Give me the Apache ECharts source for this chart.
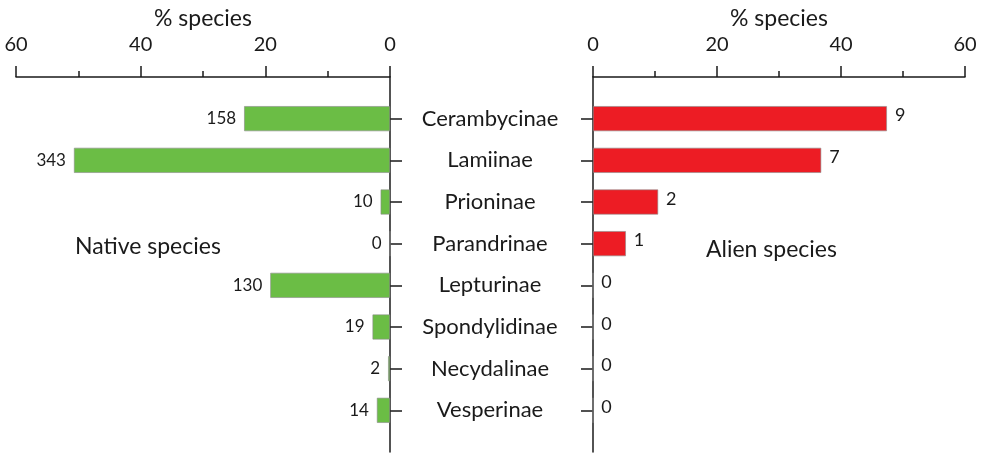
<!DOCTYPE html>
<html>
<head>
<meta charset="utf-8">
<script src="https://cdn.jsdelivr.net/npm/echarts@6/dist/echarts.min.js"></script>
<style>
  html, body { margin: 0; padding: 0; background: #fff; }
  #chart { width: 984px; height: 453px; }
</style>
</head>
<body>
<div id="chart"></div>
<script>
// subfamilies, top to bottom
const subfamilies = ['Cerambycinae', 'Lamiinae', 'Prioninae', 'Parandrinae', 'Lepturinae', 'Spondylidinae', 'Necydalinae', 'Vesperinae'];
// % of species
const nativePct = [23.4, 50.7, 1.5, 0, 19.2, 2.8, 0.3, 2.1];
const alienPct = [47.4, 36.8, 10.5, 5.3, 0, 0, 0, 0];
// species counts shown next to the bars
const nativeCount = [158, 343, 10, 0, 130, 19, 2, 14];
const alienCount = [9, 7, 2, 1, 0, 0, 0, 0];
const pctTicks = [0, 20, 40, 60];

const chart = echarts.init(document.getElementById('chart'));
const font = 'Lato, "Open Sans", sans-serif';
const ink = '#1a1a1a';

// blank slot above and below so the bars sit on the tick lines
const cats = [''].concat(subfamilies, ['']);
const pad = arr => [null].concat(arr, [null]);

const xCommon = {
  type: 'value',
  position: 'top',
  min: pctTicks[0],
  max: pctTicks[pctTicks.length - 1],
  interval: 20,
  name: '% species',
  nameLocation: 'middle',
  nameGap: 47,
  nameTextStyle: { fontFamily: font, fontSize: 23, color: ink },
  axisLine: { show: true, lineStyle: { color: ink, width: 1.5 } },
  axisTick: { show: true, length: 11, lineStyle: { color: ink, width: 1.5 } },
  minorTick: { show: true, splitNumber: 2, length: 6, lineStyle: { color: ink, width: 1.5 } },
  axisLabel: { fontFamily: font, fontSize: 20, color: ink, margin: 22 },
  splitLine: { show: false }
};

const yCommon = {
  type: 'category',
  data: cats,
  inverse: true,
  boundaryGap: false,
  axisLine: { show: true, onZero: false, lineStyle: { color: ink, width: 1.5 } },
  axisTick: {
    show: true, length: 12,
    interval: (i, v) => v !== '',
    lineStyle: { color: ink, width: 1.5 }
  }
};

chart.setOption({
  animation: false,
  grid: [
    { left: 16, right: 594, top: 77, bottom: 1, containLabel: false, outerBoundsMode: 'none' },
    { left: 593, right: 19, top: 77, bottom: 1, containLabel: false, outerBoundsMode: 'none' }
  ],
  xAxis: [
    Object.assign({}, xCommon, { gridIndex: 0, inverse: true }),
    Object.assign({}, xCommon, { gridIndex: 1 })
  ],
  yAxis: [
    Object.assign({}, yCommon, {
      gridIndex: 0,
      position: 'right',
      axisLabel: {
        show: true, align: 'center', margin: 100,
        fontFamily: font, fontSize: 22, color: ink,
        interval: 0
      }
    }),
    Object.assign({}, yCommon, {
      gridIndex: 1,
      position: 'left',
      axisLabel: { show: false }
    })
  ],
  series: [
    {
      type: 'bar',
      xAxisIndex: 0,
      yAxisIndex: 0,
      data: pad(nativePct),
      barWidth: 25,
      itemStyle: { color: '#6bbd45', borderColor: '#8a8a8a', borderWidth: 0.6 },
      label: {
        show: true,
        position: 'left',
        distance: 8,
        fontFamily: font,
        fontSize: 17,
        color: ink,
        formatter: p => nativeCount[p.dataIndex - 1]
      }
    },
    {
      type: 'bar',
      xAxisIndex: 1,
      yAxisIndex: 1,
      data: pad(alienPct),
      barWidth: 25,
      itemStyle: { color: '#ed1c24', borderColor: '#8a8a8a', borderWidth: 0.6 },
      label: {
        show: true,
        position: 'right',
        distance: 8,
        offset: [0, -3],
        fontFamily: font,
        fontSize: 18,
        color: ink,
        formatter: p => alienCount[p.dataIndex - 1]
      }
    }
  ],
  graphic: [
    {
      type: 'text', left: 75, top: 235,
      style: { text: 'Native species', fontFamily: font, fontSize: 23, fill: ink }
    },
    {
      type: 'text', left: 706, top: 238,
      style: { text: 'Alien species', fontFamily: font, fontSize: 23, fill: ink }
    }
  ]
});
</script>
</body>
</html>
